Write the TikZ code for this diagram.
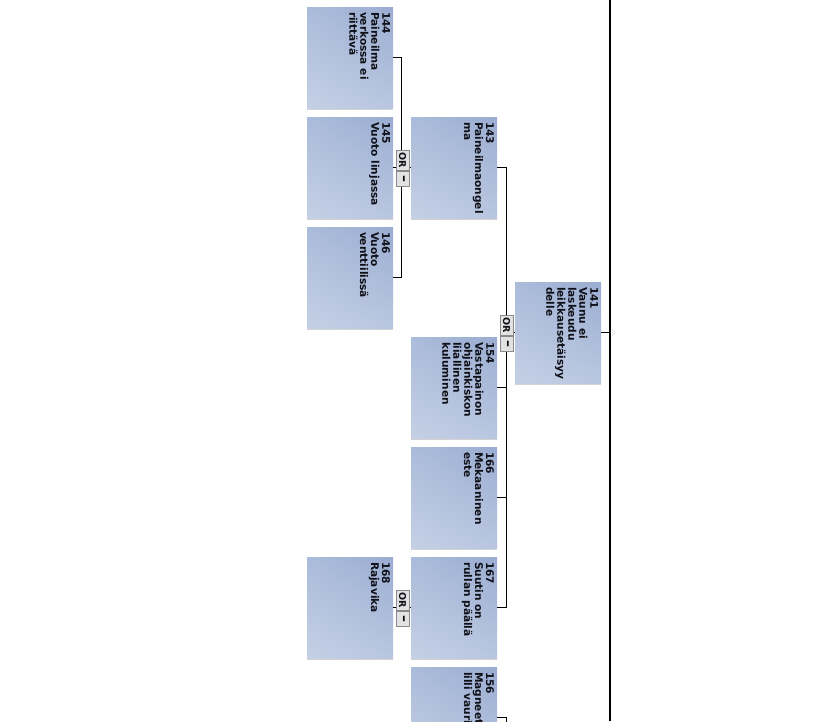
\documentclass[tikz,border=0pt]{standalone}
\usepackage{fontspec}
\setmainfont{DejaVu Sans}
\usetikzlibrary{shadows,shadings}
\definecolor{boxdark}{HTML}{9AADD1}
\definecolor{boxlight}{HTML}{C5D0E5}
\definecolor{boxmidA}{HTML}{ABBBDA}
\definecolor{boxmidB}{HTML}{B9C6E0}
\definecolor{txt}{HTML}{101018}
\definecolor{gatefill}{HTML}{E2E2E2}
\definecolor{gateline}{HTML}{8A8A8A}
\tikzset{
  fbox/.style={rectangle, minimum width=86pt, minimum height=101pt, inner sep=0pt,
    upper right=boxdark, lower left=boxlight, upper left=boxmidA, lower right=boxmidB,
    drop shadow={shadow xshift=0pt, shadow yshift=-1.5pt, opacity=0.35, fill=gray}},
  flabel/.style={rotate=-90, anchor=north west, inner sep=0pt, align=left, text=txt,
    font=\fontsize{10.6}{11}\selectfont\bfseries},
  gor/.style={rectangle, draw=gateline, fill=gatefill, minimum width=13pt, minimum height=20pt,
    inner sep=0pt, font=\fontsize{9.5}{10}\selectfont\bfseries, text=txt},
  gneg/.style={rectangle, draw=gateline, fill=gatefill, minimum width=13pt, minimum height=15pt,
    inner sep=0pt, font=\fontsize{14}{14}\selectfont\bfseries, text=txt},
  conn/.style={draw=black, line width=0.8pt},
  mainline/.style={draw=black, line width=1.2pt}
}
\begin{document}
\begin{tikzpicture}[x=1pt,y=-1pt]
\useasboundingbox (0,0) rectangle (828,721);
\clip (0,0) rectangle (828,721);
\fill[white] (0,0) rectangle (828,721);

% junction coordinates
\coordinate (j1) at (401,167.5);
\coordinate (j2) at (506,332.5);
\coordinate (r1) at (610,332.5);
\coordinate (mtop) at (610,0);
\coordinate (mbot) at (610,721);

% boxes
\node[fbox] (b144) at (350,57.5) {};
\node[fbox] (b145) at (350,167.5) {};
\node[fbox] (b146) at (350,277.5) {};
\node[fbox] (b143) at (454,167.5) {};
\node[fbox] (b141) at (558,332.5) {};
\node[fbox] (b154) at (454,387.5) {};
\node[fbox] (b166) at (454,497.5) {};
\node[fbox] (b167) at (454,607.5) {};
\node[fbox] (b168) at (350,607.5) {};
\node[fbox] (b156) at (454,717.5) {};

% labels
\node[flabel] (t144) at ([xshift=-3pt,yshift=-5pt]b144.north east) {144\\Paineilma\\verkossa ei\\riittävä};
\node[flabel] (t145) at ([xshift=-3pt,yshift=-5pt]b145.north east) {145\\Vuoto linjassa};
\node[flabel] (t146) at ([xshift=-3pt,yshift=-5pt]b146.north east) {146\\Vuoto\\venttiilissä};
\node[flabel] (t143) at ([xshift=-3pt,yshift=-5pt]b143.north east) {143\\Paineilmaongel\\ma};
\node[flabel] (t141) at ([xshift=-3pt,yshift=-5pt]b141.north east) {141\\Vaunu ei\\laskeudu\\leikkausetäisyy\\delle};
\node[flabel] (t154) at ([xshift=-3pt,yshift=-5pt]b154.north east) {154\\Vastapainon\\ohjainkiskon\\liiallinen\\kuluminen};
\node[flabel] (t166) at ([xshift=-3pt,yshift=-5pt]b166.north east) {166\\Mekaaninen\\este};
\node[flabel] (t167) at ([xshift=-3pt,yshift=-5pt]b167.north east) {167\\Suutin on\\rullan päällä};
\node[flabel] (t168) at ([xshift=-3pt,yshift=-5pt]b168.north east) {168\\Rajavika};
\node[flabel] (t156) at ([xshift=-3pt,yshift=-5pt]b156.north east) {156\\Magneetti\\lilli vauri};

% connectors
\draw[conn] (b144.east) -| (j1);
\draw[conn] (b146.east) -| (j1);
\draw[conn] (b145.east) -- (b143.west);
\draw[conn] (b143.east) -| (j2);
\draw[conn] (b167.east) -| (j2);
\draw[conn] (b154.east) -- (b154.east -| j2);
\draw[conn] (b166.east) -- (b166.east -| j2);
\draw[conn] (j2) -- (b141.west);
\draw[conn] (b168.east) -- (b167.west);
\draw[conn] (b156.east) -| ([yshift=-10pt]b156.east -| j2);
\draw[conn] (b141.east) -- (r1);
\draw[mainline] (mtop) -- (mbot);
\draw[draw=gray!30, line width=0.6pt] (612,329.5) -- (615,332.5) -- (612,335.5);

% gates
\node[gor] (g1or) at (402.5,160) {\rotatebox{-90}{OR}};
\node[gneg] (g1ng) at (402.5,178.5) {\rotatebox{-90}{–}};
\node[gor] (g2or) at (506.5,325.5) {\rotatebox{-90}{OR}};
\node[gneg] (g2ng) at (506.5,344) {\rotatebox{-90}{–}};
\node[gor] (g3or) at (402.5,600) {\rotatebox{-90}{OR}};
\node[gneg] (g3ng) at (402.5,618.5) {\rotatebox{-90}{–}};
\end{tikzpicture}
\end{document}
